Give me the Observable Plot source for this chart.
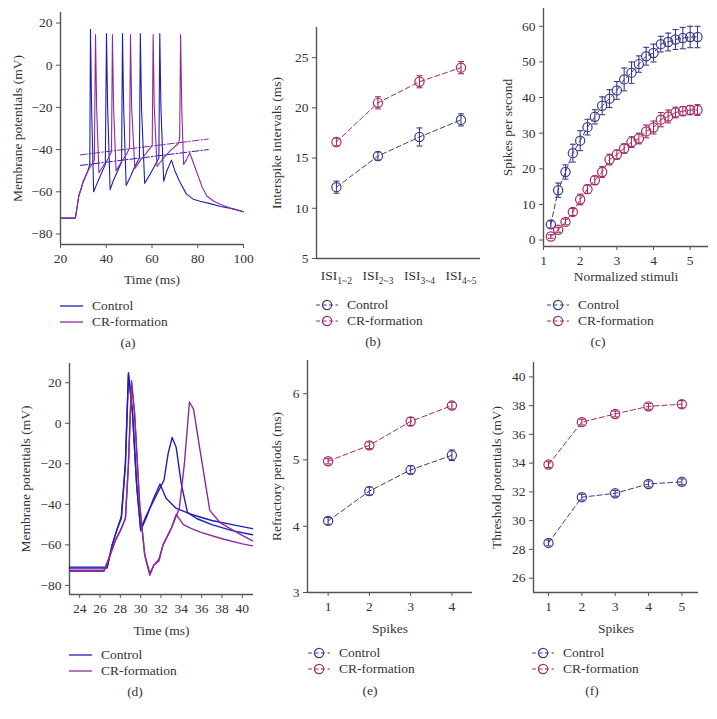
<!DOCTYPE html>
<html><head><meta charset="utf-8">
<script src="https://cdn.jsdelivr.net/npm/d3@7"></script>
<script src="https://cdn.jsdelivr.net/npm/@observablehq/plot@0.6"></script>
<style>
body{margin:0;background:#fff;}
#fig{position:relative;width:717px;height:719px;font-family:"Liberation Serif","DejaVu Serif","Times New Roman",serif;color:#333;overflow:hidden;}
.panel{position:absolute;}
.leg{position:absolute;font-size:13.5px;line-height:16px;}
.leg div{display:flex;align-items:center;height:16px;}
.leg svg{margin-right:9px;}
.lab{position:absolute;font-size:13.5px;transform:translateX(-50%);}
</style></head><body><div id="fig"></div>
<script>
// ---------- data ----------
const seriesNames = ["Control", "CR-formation"];

// (a) membrane potential traces [time ms, mV]
const traceA_control = [[20,-72.5],[26.5,-72.5],[28,-62],[30,-55],[32,-50],[32.8,-47],[33.1,17],[33.6,-20],[34.5,-60],[36,-56],[38,-51],[39.6,-47],[40.1,15],[40.6,-20],[41.7,-59],[43,-55],[45,-50],[46.7,-46],[47.1,15],[47.6,-20],[48.7,-57],[50.5,-53],[52.5,-48],[54.5,-44],[54.9,15],[55.4,-20],[56.8,-56],[59,-52],[61,-48],[63,-44],[63.4,15],[63.9,-20],[65.1,-55],[66.5,-50],[68.5,-45],[70,-50],[72,-55],[75,-61],[78,-63.5],[81,-64.5],[85,-65.5],[90,-67],[95,-68],[100,-69.5]];
const traceA_cr = [[20,-72.5],[26.5,-72.5],[28,-62],[30,-55],[32,-50],[34.8,-45],[35.3,14.5],[35.8,-20],[36.8,-51],[38.5,-48],[41,-44],[42.3,-41],[42.7,14.5],[43.2,-20],[44.3,-50],[46.5,-46],[49,-42],[50.2,-39],[50.6,14.5],[51.1,-20],[52.5,-49],[55,-45],[58,-41],[60.1,-38],[60.5,14.5],[61,-20],[62.2,-48],[65,-44],[68,-40.5],[71.7,-37],[72.1,-34],[72.5,14.5],[73,-20],[73.8,-47],[75,-45],[76.5,-41.5],[78,-46],[80,-52],[82,-58],[84,-62],[87,-64.5],[90,-66],[95,-68],[100,-69.5]];
const thresholdA_control = [[28.7,-47.5],[84.6,-40]];
const thresholdA_cr = [[28.7,-42.5],[84.6,-35]];

// (b) interspike intervals
const isiLabels = ["ISI|1~2","ISI|2~3","ISI|3~4","ISI|4~5"];
const isiControl = [12.1, 15.2, 17.1, 18.8];
const isiControlErr = [0.6, 0.4, 0.9, 0.6];
const isiCR = [16.6, 20.5, 22.6, 24.0];
const isiCRErr = [0.4, 0.6, 0.6, 0.6];

// (c) spikes per second vs normalized stimuli
const stimuli = [1.2,1.4,1.6,1.8,2.0,2.2,2.4,2.6,2.8,3.0,3.2,3.4,3.6,3.8,4.0,4.2,4.4,4.6,4.8,5.0,5.2];
const rateControl = [4.4,14.0,19.1,24.4,27.9,31.7,34.6,37.7,39.7,42.0,45.1,47.0,49.4,51.6,52.5,55.0,55.6,56.3,56.7,57.0,57.0];
const rateControlErr = [1.0,2.0,2.0,2.5,2.8,2.2,2.0,2.5,2.5,2.5,3.2,3.0,2.3,2.5,2.5,2.2,2.5,2.8,3.0,3.0,3.0];
const rateCR = [1.0,2.9,5.1,7.9,11.4,14.3,16.8,19.1,22.6,24.0,25.7,27.5,28.5,30.5,31.6,33.8,34.7,35.8,36.2,36.5,36.5];
const rateCRErr = [0.5,0.7,0.8,1.0,1.5,1.2,1.2,1.5,1.5,1.3,1.3,1.5,1.5,1.8,1.8,2.0,1.8,1.5,1.3,1.3,1.5];

// (d) single spike traces (two sweeps each)
const traceD_control1 = [[23,-71],[26.7,-71],[27.2,-60],[27.7,-52],[28.1,-46],[28.5,-20],[28.8,25],[29.2,5],[29.6,-30],[30,-53],[30.6,-46],[31.2,-38],[31.9,-30],[32.5,-37],[33.5,-42],[35,-45],[37,-48],[39,-50],[41,-52]];
const traceD_control2 = [[23,-71.5],[26.7,-71.5],[27.2,-60],[27.7,-52],[28.1,-47],[28.5,-20],[28.8,24],[29.2,5],[29.6,-30],[30,-52],[30.6,-45],[31.5,-36],[32.3,-28],[32.7,-15],[33.1,-7],[33.5,-12],[34,-30],[34.6,-44],[35.5,-47],[37,-50],[39,-53],[41,-55]];
const traceD_cr1 = [[23,-72.5],[26.4,-72.5],[27,-65],[27.5,-58],[28,-53],[28.5,-47],[28.8,-20],[29.1,21],[29.4,5],[29.9,-40],[30.4,-65],[30.9,-75],[31.3,-70],[31.8,-68],[32.2,-60],[33,-52],[33.5,-45],[34.2,-50],[35,-52],[36,-54],[38,-57],[40,-59.5],[41,-60.5]];
const traceD_cr2 = [[23,-73],[26.4,-73],[27,-65],[27.5,-58],[28,-53],[28.5,-47],[28.8,-20],[29.1,20],[29.4,5],[29.9,-40],[30.4,-65],[30.9,-74],[31.3,-70],[31.8,-67],[32.2,-60],[33,-52],[33.8,-42],[34.3,-20],[34.8,10.5],[35.2,7],[35.8,-12],[36.8,-43],[37.8,-49],[39.5,-54],[41,-58]];

// (e) refractory periods
const refSpikes = [1,2,3,4];
const refControl = [4.08, 4.53, 4.85, 5.07];
const refControlErr = [0.05, 0.06, 0.06, 0.08];
const refCR = [4.98, 5.22, 5.58, 5.82];
const refCRErr = [0.04, 0.05, 0.06, 0.05];

// (f) threshold potentials
const thrSpikes = [1,2,3,4,5];
const thrControl = [28.45, 31.63, 31.9, 32.55, 32.7];
const thrControlErr = [0.2, 0.2, 0.2, 0.2, 0.2];
const thrCR = [33.9, 36.85, 37.42, 37.95, 38.1];
const thrCRErr = [0.2, 0.2, 0.2, 0.2, 0.25];

// ---------- style ----------
const colTraceCtrl = "#1f1fb8", colTraceCR = "#8e2b98";
const colCtrl = "#3c3c8e", colCR = "#a32a62";
const axisCol = "#555", textCol = "#333";
const fontStack = '"Liberation Serif","DejaVu Serif","Times New Roman",serif';
const fig = document.getElementById("fig");

const hline = {draw(ctx, size){ const w = Math.sqrt(size/Math.PI); ctx.moveTo(-w,0); ctx.lineTo(w,0); }};

function rows(xs, ys, es){ return xs.map((x,i)=>({x, y: ys[i], e: es[i]})); }

function errMarks(data, color){
  return [
    Plot.line(data, {x:"x", y:"y", stroke: color, strokeWidth: 1, strokeDasharray: "5,3"}),
    Plot.ruleX(data, {x:"x", y1: d=>d.y-d.e, y2: d=>d.y+d.e, stroke: color, strokeWidth: 1.1}),
    Plot.dot(data, {x:"x", y: d=>d.y+d.e, symbol: hline, r: 3, stroke: color, strokeWidth: 1.1}),
    Plot.dot(data, {x:"x", y: d=>d.y-d.e, symbol: hline, r: 3, stroke: color, strokeWidth: 1.1}),
    Plot.dot(data, {x:"x", y:"y", r: 4.6, stroke: color, fill: "none", strokeWidth: 1.2})
  ];
}

const fmtNum = d => String(d).replace("-", "\u2212");

function panel(o){
  const p = Plot.plot({
    width: o.width, height: o.height,
    marginLeft: o.ml, marginRight: o.mr, marginTop: o.mt, marginBottom: o.mb,
    style: {fontFamily: fontStack, fontSize: "13.5px", color: textCol, background: "transparent", overflow: "visible"},
    x: {domain: o.xd},
    y: {domain: o.yd},
    marks: [
      Plot.axisX({ticks: o.xt, tickFormat: o.xf || fmtNum, tickSize: o.xts ?? 4, tickPadding: o.xtp ?? 5, stroke: axisCol, fill: textCol, fontFamily: fontStack, label: o.xl, labelAnchor: "center", labelArrow: "none", labelOffset: o.xlo}),
      Plot.axisY({ticks: o.yt, tickFormat: fmtNum, tickSize: 4, tickPadding: 4, stroke: axisCol, fill: textCol, fontFamily: fontStack, label: o.yl, labelAnchor: "center", labelArrow: "none", labelOffset: o.ylo}),
      Plot.ruleX([o.xd[0]], {stroke: axisCol, strokeWidth: 1.4}),
      Plot.ruleY([o.yd[0]], {stroke: axisCol, strokeWidth: 1.4}),
      ...o.marks
    ]
  });
  p.classList.add("panel");
  p.style.left = o.left + "px"; p.style.top = o.top + "px";
  fig.appendChild(p);
  return p;
}

function legend(left, top, kind){
  const d = document.createElement("div");
  d.className = "leg"; d.style.left = left + "px"; d.style.top = (top - 8) + "px";
  const cols = kind === "trace" ? [colTraceCtrl, colTraceCR] : [colCtrl, colCR];
  d.innerHTML = seriesNames.map((n,i)=>{
    const c = cols[i];
    const sym = kind === "trace"
      ? `<svg width="23" height="10"><line x1="0" x2="23" y1="5" y2="5" stroke="${c}" stroke-width="1.3"/></svg>`
      : `<svg width="22" height="12"><line x1="0" x2="22" y1="6" y2="6" stroke="${c}" stroke-width="1" stroke-dasharray="4,2.5"/><circle cx="11" cy="6" r="4.6" fill="none" stroke="${c}" stroke-width="1.2"/></svg>`;
    return `<div>${sym}<span>${n}</span></div>`;
  }).join("");
  fig.appendChild(d);
}
function letter(x, y, t){
  const d = document.createElement("div");
  d.className = "lab"; d.style.left = x + "px"; d.style.top = (y - 9) + "px"; d.textContent = t;
  fig.appendChild(d);
}
const lineOf = (data, color, extra = {}) => Plot.line(data, {x: d=>d[0], y: d=>d[1], stroke: color, strokeWidth: 1.1, ...extra});

// (a)
panel({left:0, top:0, width:250, height:290, ml:60, mr:7, mt:12, mb:46,
  xd:[20,100], xt:[20,40,60,80,100], xl:"Time (ms)", xlo:39,
  yd:[-85,25], yt:[-80,-60,-40,-20,0,20], yl:"Membrane potentials (mV)", ylo:48,
  marks:[
    lineOf(thresholdA_control, colTraceCtrl, {strokeDasharray:"7,2,1.5,2", strokeWidth:1}),
    lineOf(thresholdA_cr, colTraceCR, {strokeDasharray:"7,2,1.5,2", strokeWidth:1}),
    lineOf(traceA_control, colTraceCtrl),
    lineOf(traceA_cr, colTraceCR)
  ]});
legend(60, 306, "trace"); letter(128, 344, "(a)");

// (b)
const bCtrl = rows([1,2,3,4], isiControl, isiControlErr);
const bCR = rows([1,2,3,4], isiCR, isiCRErr);
const pb = panel({left:245, top:0, width:240, height:290, ml:71, mr:5, mt:27, mb:32,
  xd:[0.52,4.47], xt:[1,2,3,4], xf: i => isiLabels[i-1], xl:null, xts:0, xtp:12,
  yd:[5,28], yt:[5,10,15,20,25], yl:"Interspike intervals (ms)", ylo:45,
  marks:[...errMarks(bCtrl, colCtrl), ...errMarks(bCR, colCR)]});
d3.select(pb).selectAll('g[aria-label="x-axis tick label"] text').each(function(){
  const s = this.textContent.split("|");
  if (s.length < 2) return;
  const t = d3.select(this); t.text(s[0]);
  t.append("tspan").attr("dy", 4).attr("font-size", 9.5).text(s[1]);
});
legend(316, 305, "marker"); letter(373, 343, "(b)");

// (c)
const cCtrl = rows(stimuli, rateControl, rateControlErr);
const cCR = rows(stimuli, rateCR, rateCRErr);
panel({left:480, top:0, width:237, height:290, ml:63, mr:9, mt:8, mb:44,
  xd:[1,5.5], xt:[1,2,3,4,5], xl:"Normalized stimuli", xlo:34,
  yd:[-1.8,65], yt:[0,10,20,30,40,50,60], yl:"Spikes per second", ylo:41,
  marks:[...errMarks(cCtrl, colCtrl), ...errMarks(cCR, colCR)]});
legend(547, 305, "marker"); letter(598, 343, "(c)");

// (d)
panel({left:0, top:360, width:260, height:290, ml:69, mr:7, mt:3, mb:56,
  xd:[23,41.1], xt:[24,26,28,30,32,34,36,38,40], xl:"Time (ms)", xlo:40,
  yd:[-84.5,29.5], yt:[-80,-60,-40,-20,0,20], yl:"Membrane potentials (mV)", ylo:49,
  marks:[
    lineOf(traceD_control1, colTraceCtrl, {strokeWidth:1.4}),
    lineOf(traceD_control2, colTraceCtrl, {strokeWidth:1.4}),
    lineOf(traceD_cr1, colTraceCR, {strokeWidth:1.4}),
    lineOf(traceD_cr2, colTraceCR, {strokeWidth:1.4})
  ]});
legend(69, 655, "trace"); letter(135, 693, "(d)");

// (e)
const eCtrl = rows(refSpikes, refControl, refControlErr);
const eCR = rows(refSpikes, refCR, refCRErr);
panel({left:245, top:355, width:232, height:290, ml:62, mr:5, mt:5, mb:53,
  xd:[0.5,4.5], xt:[1,2,3,4], xl:"Spikes", xlo:40,
  yd:[3,6.5], yt:[3,4,5,6], yl:"Refractory periods (ms)", ylo:36,
  marks:[...errMarks(eCtrl, colCtrl), ...errMarks(eCR, colCR)]});
legend(308, 653, "marker"); letter(370, 692, "(e)");

// (f)
const fCtrl = rows(thrSpikes, thrControl, thrControlErr);
const fCR = rows(thrSpikes, thrCR, thrCRErr);
panel({left:480, top:355, width:237, height:290, ml:53, mr:19, mt:7, mb:53,
  xd:[0.55,5.5], xt:[1,2,3,4,5], xl:"Spikes", xlo:40,
  yd:[25,41], yt:[26,28,30,32,34,36,38,40], yl:"Threshold potentials (mV)", ylo:42,
  marks:[...errMarks(fCtrl, colCtrl), ...errMarks(fCR, colCR)]});
legend(532, 653, "marker"); letter(592, 692, "(f)");
</script></body></html>
